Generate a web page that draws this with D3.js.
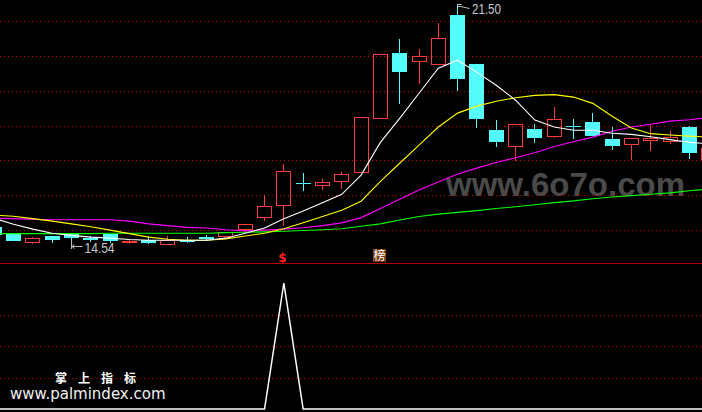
<!DOCTYPE html>
<html><head><meta charset="utf-8">
<script src="https://cdn.jsdelivr.net/npm/d3@7"></script>
<style>html,body{margin:0;padding:0;background:#000;overflow:hidden}</style>
</head><body><svg id="c" width="702" height="412"></svg>
<script>
// ---- data ----
const days = [1,2,3,4,5,6,7,8,9,10,11,12,13,14,15,16,17,18,19,20,21,22,23,24,25,26,27,28,29,30,31,32,33,34,35,36,37,38];
const opens  = [15.09,14.89,14.67,14.84,14.89,14.79,14.89,14.67,14.74,14.61,14.74,14.81,14.84,15.04,15.39,15.72,16.37,16.31,16.42,16.69,18.23,20.09,19.88,19.79,21.18,19.77,17.88,17.44,17.91,17.70,18.00,18.11,17.62,17.49,17.59,17.57,17.97,17.05];
const highs  = [15.12,14.91,14.81,14.85,14.91,14.84,14.89,14.72,14.84,14.84,14.81,14.87,14.97,15.20,16.01,16.90,16.65,16.49,16.67,18.25,20.08,20.49,20.20,20.95,21.50,19.77,18.17,18.07,18.05,18.54,18.20,18.37,17.97,17.65,18.02,17.85,18.00,17.45];
const lows   = [14.84,14.69,14.61,14.63,14.54,14.66,14.63,14.61,14.61,14.61,14.64,14.72,14.76,14.94,15.28,15.12,16.14,16.16,16.18,16.69,18.20,18.62,19.21,19.79,19.01,17.93,17.40,16.99,17.51,17.66,17.64,17.72,17.31,17.02,17.29,17.49,17.04,17.02];
const closes = [14.86,14.70,14.78,14.72,14.78,14.74,14.70,14.71,14.64,14.73,14.67,14.75,14.97,15.20,15.69,16.72,16.34,16.39,16.62,18.25,20.08,19.55,20.00,20.54,19.35,18.19,17.54,18.07,17.66,18.20,17.97,17.72,17.43,17.65,17.65,17.68,17.23,17.36];
const ma5  = [15.35,15.18,15.04,14.92,14.86,14.81,14.78,14.74,14.72,14.72,14.72,14.72,14.78,14.92,15.07,15.34,15.56,15.80,16.04,16.59,17.53,18.22,18.94,19.66,19.89,19.54,19.17,18.74,18.17,17.97,17.88,17.88,17.79,17.76,17.69,17.61,17.53,17.49];
const ma10 = [15.44,15.41,15.34,15.27,15.19,15.11,15.01,14.91,14.81,14.75,14.72,14.72,14.76,14.84,14.92,15.05,15.22,15.40,15.58,15.84,16.41,16.93,17.45,17.97,18.37,18.57,18.71,18.81,18.88,18.90,18.83,18.65,18.28,17.94,17.78,17.74,17.71,17.68];
const ma20 = [15.35,15.34,15.32,15.31,15.31,15.31,15.31,15.27,15.19,15.14,15.09,15.07,15.02,14.99,15.01,15.04,15.08,15.14,15.22,15.37,15.63,15.90,16.16,16.39,16.62,16.79,16.95,17.09,17.23,17.41,17.55,17.68,17.85,17.97,18.05,18.14,18.18,18.24];
const ma60 = [14.91,14.91,14.91,14.91,14.91,14.91,14.92,14.92,14.92,14.92,14.92,14.92,14.94,14.95,14.96,14.98,15.00,15.02,15.05,15.12,15.19,15.30,15.40,15.47,15.52,15.57,15.63,15.68,15.74,15.80,15.85,15.91,15.96,16.00,16.04,16.08,16.14,16.19];
const signal = [0,0,0,0,0,0,0,0,0,0,0,0,0,0,0,1,0,0,0,0,0,0,0,0,0,0,0,0,0,0,0,0,0,0,0,0,0,0];
const gridPrices = [21,20,19,18,17,16,15];
const gridSignal = [0.25,0.5,0.75];
const maxLabel = "21.50", minLabel = "14.54";
const maxDay = 25, minDay = 5, signalDay = 16, rankDay = 21;

// ---- drawing ----
const W = 702, H = 412;
const svg = d3.select("#c");
svg.append("rect").attr("width", W).attr("height", H).attr("fill", "#000");

const x = d3.scaleLinear().domain([1, 38]).range([-5.81, 708.66]);
const y = d3.scaleLinear().domain([15, 21]).range([230.5, 21.5]);
const ys = d3.scaleLinear().domain([0, 1]).range([409, 283]);
const r = v => Math.round(v);
const cxOf = d => Math.floor(x(d)) + 0.5;

// watermark
svg.append("text").attr("x", 446).attr("y", 195.5)
  .attr("font-family", "Liberation Sans, Arial, sans-serif").attr("font-size", 33).attr("font-weight", "bold")
  .attr("fill", "#4a4a4a").text("www.6o7o.com");

// grids
svg.append("g").selectAll("line").data(gridPrices).join("line")
  .attr("x1", 0).attr("x2", W)
  .attr("y1", d => Math.floor(y(d)) + 0.5).attr("y2", d => Math.floor(y(d)) + 0.5)
  .attr("stroke", "#c80000").attr("stroke-dasharray", "1,3");
svg.append("g").selectAll("line").data(gridSignal).join("line")
  .attr("x1", 0).attr("x2", W)
  .attr("y1", d => r(ys(d)) + 0.5).attr("y2", d => r(ys(d)) + 0.5)
  .attr("stroke", "#c80000").attr("stroke-dasharray", "1,3");
// pane separator
svg.append("line").attr("x1", 0).attr("x2", W).attr("y1", 263.5).attr("y2", 263.5)
  .attr("stroke", "#b00000");

// candles
const RED = "#ff3c3c", CYAN = "#54fcfc";
const candles = days.map((d, i) => ({d, o: opens[i], h: highs[i], l: lows[i], c: closes[i]}));
const cg = svg.append("g").attr("shape-rendering", "crispEdges");
candles.forEach(k => {
  const cx = cxOf(k.d);
  const yh = r(y(k.h)), yl = r(y(k.l));
  if (k.c >= k.o) {
    const top = r(y(k.c)); let bot = r(y(k.o)); if (bot - top < 1) bot = top + 1;
    if (yh < top) cg.append("line").attr("x1", cx).attr("x2", cx).attr("y1", yh).attr("y2", top).attr("stroke", RED);
    if (yl > bot) cg.append("line").attr("x1", cx).attr("x2", cx).attr("y1", bot + 1).attr("y2", yl).attr("stroke", RED);
    cg.append("rect").attr("x", cx - 7).attr("y", top + 0.5).attr("width", 14).attr("height", bot - top)
      .attr("fill", "none").attr("stroke", RED);
  } else {
    const top = r(y(k.o)); let bot = r(y(k.c)); if (bot - top < 1) bot = top + 1;
    cg.append("line").attr("x1", cx).attr("x2", cx).attr("y1", yh).attr("y2", yl).attr("stroke", CYAN);
    cg.append("rect").attr("x", cx - 7.5).attr("y", top).attr("width", 15).attr("height", bot - top)
      .attr("fill", CYAN);
  }
});

// moving averages
const lineGen = arr => d3.line().x((d, i) => x(days[i])).y(v => y(v))(arr);
[[ma60, "#00ff00"], [ma20, "#ff00ff"], [ma10, "#ffff00"], [ma5, "#ffffff"]].forEach(([arr, col]) => {
  svg.append("path").attr("d", lineGen(arr)).attr("fill", "none").attr("stroke", col)
    .attr("stroke-width", 1.1);
});

// max / min labels
const mx = cxOf(maxDay), myy = r(y(highs[maxDay - 1]));
svg.append("path").attr("d", `M${mx},${myy + 0.5}H${mx + 4}M${mx},${myy + 2.5}H${mx + 3}L${mx + 12},${myy + 4.5}`)
  .attr("stroke", "#c0c0c0").attr("fill", "none");
svg.append("text").attr("x", 472).attr("y", 14).attr("font-family", "Liberation Sans, Arial, sans-serif")
  .attr("font-size", 14).attr("textLength", 29).attr("lengthAdjust", "spacingAndGlyphs")
  .attr("fill", "#c8c8c8").text(maxLabel);
const nx = cxOf(minDay), ny = r(y(lows[minDay - 1]));
svg.append("path").attr("d", `M${nx},${ny - 7}V${ny + 2}M${nx},${ny - 0.5}H${nx + 11}M${nx + 3},${ny - 2.5}L${nx + 0.5},${ny - 0.5}L${nx + 3},${ny + 1.5}`)
  .attr("stroke", "#c0c0c0").attr("fill", "none");
svg.append("text").attr("x", 84.5).attr("y", 252.5).attr("font-family", "Liberation Sans, Arial, sans-serif")
  .attr("font-size", 14).attr("textLength", 30).attr("lengthAdjust", "spacingAndGlyphs")
  .attr("fill", "#c8c8c8").text(minLabel);

// signal markers
svg.append("text").attr("x", x(signalDay) - 1.5).attr("y", 262).attr("text-anchor", "middle")
  .attr("font-family", "DejaVu Sans, sans-serif").attr("font-size", 12).attr("font-weight", "bold")
  .attr("fill", "#ff2020").text("$");
const rx = cxOf(rankDay);
svg.append("rect").attr("x", rx - 7.5).attr("y", 249).attr("width", 13).attr("height", 13).attr("fill", "#7a3c12");
svg.append("text").attr("x", rx - 1).attr("y", 260).attr("text-anchor", "middle")
  .attr("font-family", "Noto Sans CJK SC, sans-serif").attr("font-size", 12).attr("fill", "#ffffff").text("榜");

// lower pane signal line
svg.append("path").attr("d", d3.line().x((d, i) => x(days[i])).y(v => ys(v))(signal))
  .attr("fill", "none").attr("stroke", "#ffffff").attr("stroke-width", 1.5);

// captions
svg.append("text").attr("x", 55).attr("y", 383).attr("font-family", "Noto Sans CJK SC, sans-serif")
  .attr("font-size", 12).attr("font-weight", "bold").attr("letter-spacing", 11).attr("fill", "#ffffff").text("掌上指标");
svg.append("text").attr("x", 10).attr("y", 398.5).attr("font-family", "DejaVu Sans, sans-serif")
  .attr("font-size", 15).attr("fill", "#f0f0f0").text("www.palmindex.com");
</script>
</body></html>
